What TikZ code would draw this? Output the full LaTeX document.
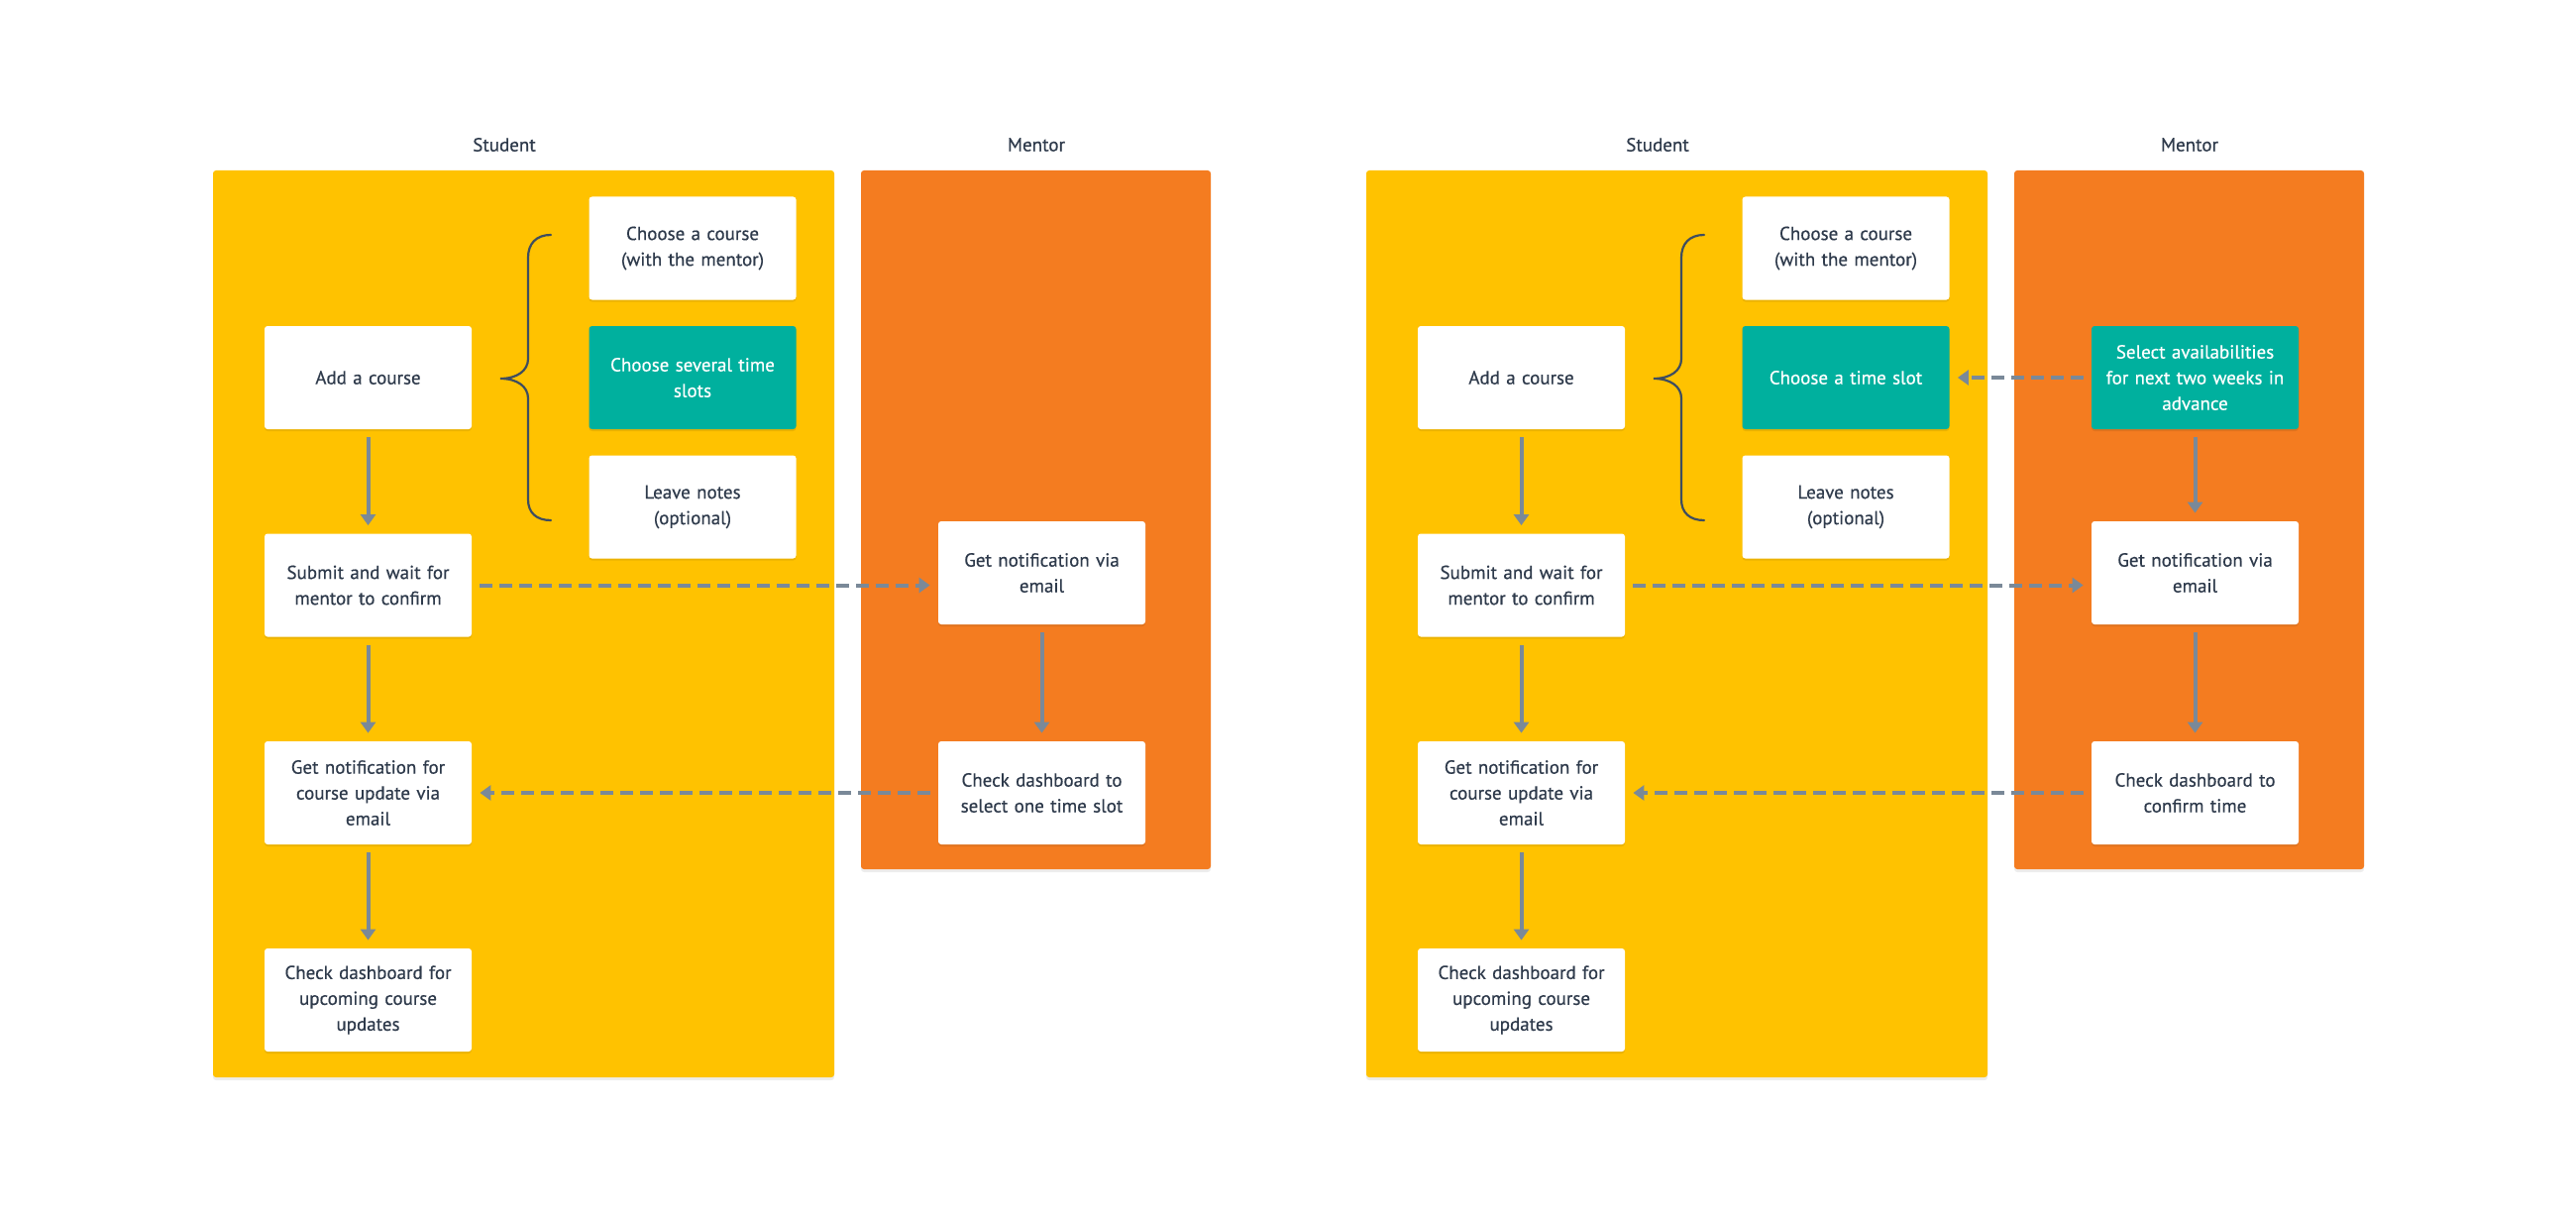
\documentclass[tikz,border=0pt]{standalone}
\usepackage{fontspec}
\setmainfont{PT Sans}[FakeBold=0.4]
\usetikzlibrary{arrows.meta,shadows}
\definecolor{laneY}{HTML}{FFC200}
\definecolor{laneO}{HTML}{F47C20}
\definecolor{tealbox}{HTML}{00B09E}
\definecolor{txt}{HTML}{2E3A4B}
\definecolor{arr}{HTML}{7A8998}
\definecolor{bracec}{HTML}{3F4D5F}
\begin{document}
\begin{tikzpicture}[x=0.5pt,y=-0.5pt,
  every node/.style={font=\fontsize{9.5}{13}\selectfont, text=txt},
  box/.style={rectangle, rounded corners=1.5pt, fill=white, minimum width=104.5pt, minimum height=52pt, text width=100pt, align=center, inner sep=0pt,
    drop shadow={shadow xshift=0pt, shadow yshift=-1pt, opacity=0.08, fill=black}},
  hlbox/.style={box, fill=tealbox, text=white},
  lanelabel/.style={inner sep=0pt},
  lanebg/.style={rounded corners=1.5pt, drop shadow={shadow xshift=0pt, shadow yshift=-1.5pt, opacity=0.07, fill=black}},
  flow/.style={draw=arr, line width=2pt, -{Triangle[width=7.5pt,length=5.5pt]}, shorten >=4pt, shorten <=4pt},
  msg/.style={flow, dash pattern=on 6.5pt off 3.5pt},
  bracestyle/.style={draw=bracec, line width=1.1pt, line cap=round},
]
\useasboundingbox (0,0) rectangle (2600,1230);
\fill[white] (0,0) rectangle (2600,1230);

% ---------- left panel ----------
\fill[laneY, lanebg] (215,172) rectangle (842,1087);
\fill[laneO, lanebg] (869,172) rectangle (1222,877);
\node[lanelabel] (LStu) at (509,146) {Student};
\node[lanelabel] (LMen) at (1046,146) {Mentor};

\node[box] (LAdd) at (371.5,381) {Add a course};
\node[box] (LCourse) at (699,250.5) {Choose a course\\(with the mentor)};
\node[hlbox] (LSlot) at (699,381) {Choose several time\\slots};
\node[box] (LNotes) at (699,511.5) {Leave notes\\(optional)};
\node[box] (LSubmit) at (371.5,590.5) {Submit and wait for\\mentor to confirm};
\node[box] (LNotif) at (371.5,800) {Get notification for\\course update via\\email};
\node[box] (LDash) at (371.5,1009) {Check dashboard for\\upcoming course\\updates};
\node[box] (LMNotif) at (1051.5,578) {Get notification via\\email};
\node[box] (LMDash) at (1051.5,800) {Check dashboard to\\select one time slot};

\draw[bracestyle] (556,237) .. controls (541,237) and (533,246) .. (533,260) -- (533,362)
  .. controls (533,374) and (522,382) .. (505,382)
  .. controls (522,382) and (533,390) .. (533,402) -- (533,504)
  .. controls (533,517) and (541,525) .. (556,525);

\draw[flow] (LAdd) -- (LSubmit);
\draw[flow] (LSubmit) -- (LNotif);
\draw[flow] (LNotif) -- (LDash);
\draw[msg] (LSubmit.east) -- (LSubmit.east -| LMNotif.west);
\draw[flow] (LMNotif) -- (LMDash);
\draw[msg] (LMDash) -- (LNotif);

% ---------- right panel ----------
\fill[laneY, lanebg] (1379,172) rectangle (2006,1087);
\fill[laneO, lanebg] (2033,172) rectangle (2386,877);
\node[lanelabel] (RStu) at (1673,146) {Student};
\node[lanelabel] (RMen) at (2210,146) {Mentor};

\node[box] (RAdd) at (1535.5,381) {Add a course};
\node[box] (RCourse) at (1863,250.5) {Choose a course\\(with the mentor)};
\node[hlbox] (RSlot) at (1863,381) {Choose a time slot};
\node[box] (RNotes) at (1863,511.5) {Leave notes\\(optional)};
\node[box] (RSubmit) at (1535.5,590.5) {Submit and wait for\\mentor to confirm};
\node[box] (RNotif) at (1535.5,800) {Get notification for\\course update via\\email};
\node[box] (RDash) at (1535.5,1009) {Check dashboard for\\upcoming course\\updates};
\node[hlbox] (RMSel) at (2215.5,381) {Select availabilities\\for next two weeks in\\advance};
\node[box] (RMNotif) at (2215.5,578) {Get notification via\\email};
\node[box] (RMDash) at (2215.5,800) {Check dashboard to\\confirm time};

\draw[bracestyle] (1720,237) .. controls (1705,237) and (1697,246) .. (1697,260) -- (1697,362)
  .. controls (1697,374) and (1686,382) .. (1669,382)
  .. controls (1686,382) and (1697,390) .. (1697,402) -- (1697,504)
  .. controls (1697,517) and (1705,525) .. (1720,525);

\draw[flow] (RAdd) -- (RSubmit);
\draw[flow] (RSubmit) -- (RNotif);
\draw[flow] (RNotif) -- (RDash);
\draw[msg] (RMSel) -- (RSlot);
\draw[flow] (RMSel) -- (RMNotif);
\draw[msg] (RSubmit.east) -- (RSubmit.east -| RMNotif.west);
\draw[flow] (RMNotif) -- (RMDash);
\draw[msg] (RMDash) -- (RNotif);
\end{tikzpicture}
\end{document}
